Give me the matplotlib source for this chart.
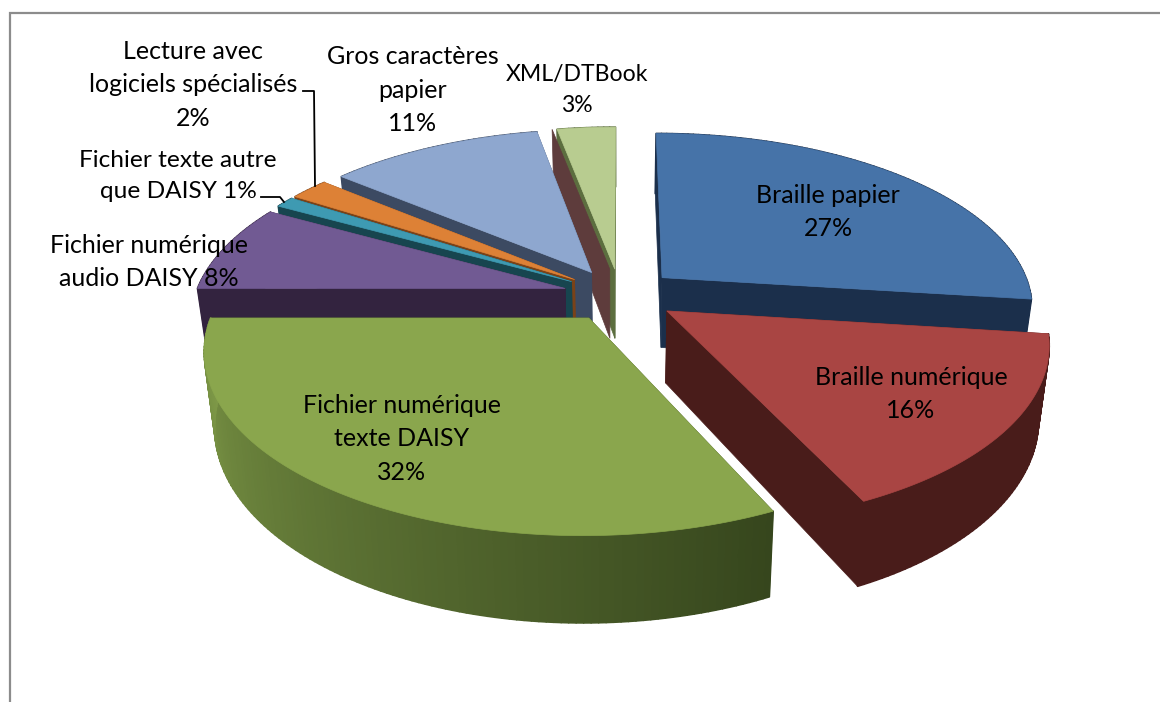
import numpy as np
import matplotlib
matplotlib.use('Agg')
import matplotlib.pyplot as plt
from matplotlib.patches import Polygon
from matplotlib.collections import PolyCollection

plt.rcParams['font.family'] = ['Lato', 'DejaVu Sans']

# Data, in drawing order of the chart (clockwise from 12 o'clock)
labels = ["Braille papier", "Braille numérique", "Fichier numérique\ntexte DAISY",
          "Fichier numérique\naudio DAISY", "Fichier texte autre\nque DAISY",
          "Lecture avec\nlogiciels spécialisés", "Gros caractères\npapier", "XML/DTBook"]
values = [27, 16, 32, 8, 1, 2, 11, 3]
separators = ["\n", "\n", "\n", " ", " ", "\n", "\n", "\n"]

# Colours
top_colors = ['#4673A8', '#A94543', '#8AA64D', '#715A93', '#3E9AB2', '#DD8136', '#8EA7CF', '#B8CC90']
face_colors = ['#1B2F4B', '#491C1A', '#3A4A1F', '#33233F', '#17454F', '#7A4218', '#3C4A62', '#5C6E3F']
wall_left = ['#1B2F4B', '#491C1A', '#7F9A48', '#33233F', '#17454F', '#7A4218', '#3C4A62', '#5C6E3F']
wall_right = ['#1B2F4B', '#491C1A', '#36461D', '#33233F', '#17454F', '#7A4218', '#3C4A62', '#5C6E3F']

# Where the labels sit, in pixels
label_x = [828, 911, 402, 149, 178, 193, 413, 577]
label_y = [212, 394, 439, 262, 176, 85, 90, 90]
label_size = [18, 18, 18, 18, 17.6, 18, 18, 16.6]

# Pie geometry and perspective
cx = 620
vy = -755
F = 370
A = 1050
B = 71
k = 0.165
shrink = 0.025
explode = 0.154
draw_order = [7, 6, 5, 4, 3, 0, 1, 2]


def project(x, y, z):
    w = 1 / (1 + k * y)
    return cx + F * x * w * (1 - shrink * z), vy + (A + B * z) * w


def rim(a, off):
    return np.sin(a) + off[0], np.cos(a) + off[1]


def mix(c1, c2, t):
    c1 = np.array(matplotlib.colors.to_rgb(c1))
    c2 = np.array(matplotlib.colors.to_rgb(c2))
    return tuple(c1 + (c2 - c1) * t)


fig = plt.figure(figsize=(11.6, 7.02), dpi=100)
ax = fig.add_axes([0, 0, 1, 1])
ax.set_xlim(0, 1160)
ax.set_ylim(702, 0)
ax.axis('off')

# chart frame: only top and left show, the rest is cropped
ax.plot([1160, 9.5, 9.5], [12.5, 12.5, 702], color='#8C8C8C', lw=1.6, solid_joinstyle='miter')

edges = np.cumsum([0] + values) / sum(values) * 2 * np.pi

for i in draw_order:
    a0, a1 = edges[i], edges[i + 1]
    mid = (a0 + a1) / 2
    off = (explode * np.sin(mid), explode * np.cos(mid))
    tip = off
    aa = np.linspace(a0, a1, max(8, int((a1 - a0) * 60)))
    rx, ry = rim(aa, off)

    # the two cut faces
    shifted = None
    for a in (a0, a1):
        ex, ey = rim(a, off)
        pts = [project(tip[0], tip[1], 0), project(ex, ey, 0), project(ex, ey, 1), project(tip[0], tip[1], 1)]
        ax.add_patch(Polygon(pts, closed=True, fc=face_colors[i], ec=face_colors[i], lw=0.5))
        if i == 7 and a == a0:
            # the XML slice shows a reddish face next to its own one
            shifted = [(p[0] - 5, p[1]) for p in pts]

    # outer wall, in thin strips for the gradient
    strips = []
    cols = []
    n = len(aa)
    for j in range(n - 1):
        p = [project(rx[j], ry[j], 0), project(rx[j + 1], ry[j + 1], 0),
             project(rx[j + 1], ry[j + 1], 1), project(rx[j], ry[j], 1)]
        strips.append(p)
        cols.append(mix(wall_right[i], wall_left[i], j / max(1, n - 2)))
    ax.add_collection(PolyCollection(strips, facecolors=cols, edgecolors=cols, linewidths=1.2))

    if shifted is not None:
        ax.add_patch(Polygon(shifted, closed=True, fc='#5E3C3C', ec='#5E3C3C', lw=0.5))

    # top of the slice
    sx, sy = project(rx, ry, 0)
    tx, ty = project(tip[0], tip[1], 0)
    ax.add_patch(Polygon(np.column_stack([np.r_[tx, sx], np.r_[ty, sy]]), closed=True,
                         fc=top_colors[i], ec=top_colors[i], lw=0.5))

# leader lines
ax.plot([303, 314, 315], [91, 91, 186], color='black', lw=1.3)
ax.plot([261, 280, 284], [197, 197, 202], color='black', lw=1.3)

for i in range(len(labels)):
    ax.text(label_x[i], label_y[i], labels[i] + separators[i] + str(values[i]) + "%",
            ha='center', va='center', fontsize=label_size[i], color='black', linespacing=1.55)

fig.savefig('out.png', dpi=100)
